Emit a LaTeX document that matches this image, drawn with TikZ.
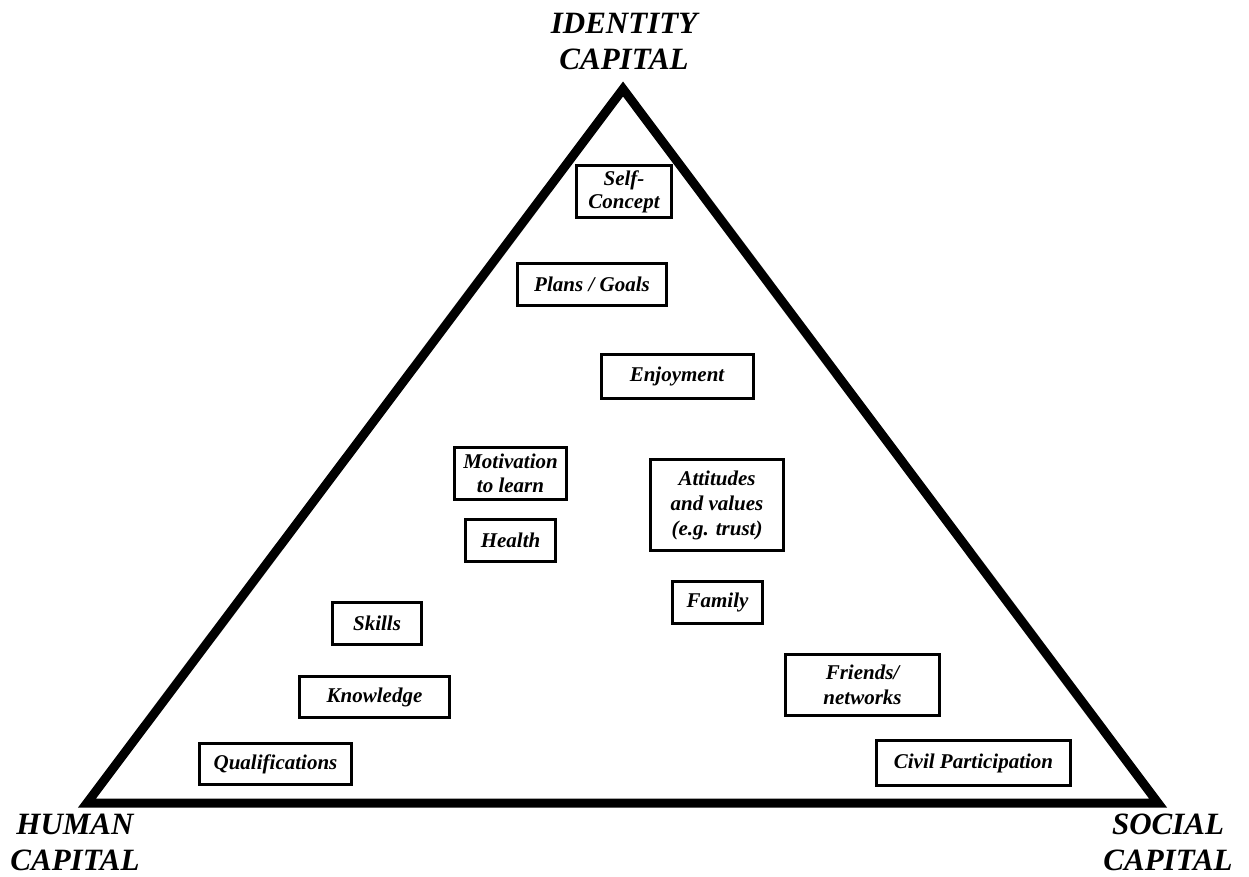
\documentclass[tikz,border=0pt]{standalone}
\usepackage{fontspec}
\setmainfont{Liberation Serif}
\begin{document}
\begin{tikzpicture}[x=1pt,y=-1pt,
  item/.style={draw, line width=3pt, align=center, inner sep=0pt,
    font=\fontsize{21}{25}\selectfont\bfseries\itshape},
  corner/.style={align=center, inner sep=0pt,
    font=\fontsize{31}{36}\selectfont\bfseries\itshape}]
\useasboundingbox (0,0) rectangle (1249,877);
\coordinate (top) at (623,89);
\coordinate (bl) at (87,803);
\coordinate (br) at (1158,803);
\draw[line width=9pt, line join=miter] (top) -- (br) -- (bl) -- cycle;

\node[corner] (idc) at (624,42) {IDENTITY\\CAPITAL};
\node[corner] (hc) at (75,842) {HUMAN\\CAPITAL};
\node[corner] (sc) at (1168,842) {SOCIAL\\CAPITAL};

\node[item, minimum width=95pt, minimum height=52pt, font=\fontsize{21}{23}\selectfont\bfseries\itshape] (self) at (624,191.5) {Self-\\Concept};
\node[item, minimum width=149pt, minimum height=42pt] (plans) at (592,284.5) {Plans / Goals};
\node[item, minimum width=152pt, minimum height=44pt] (enj) at (677,376.5) {Enjoyment};
\node[item, minimum width=112pt, minimum height=52pt, font=\fontsize{21}{24}\selectfont\bfseries\itshape] (mot) at (510.5,473.5) {Motivation\\to learn};
\node[item, minimum width=90pt, minimum height=42pt] (health) at (510.5,540.5) {Health};
\node[item, minimum width=133pt, minimum height=91pt] (att) at (717,505) {Attitudes\\and values\\(e.g. trust)};
\node[item, minimum width=90pt, minimum height=42pt] (fam) at (717.5,602.5) {Family};
\node[item, minimum width=89pt, minimum height=42pt] (skills) at (377,623.5) {Skills};
\node[item, minimum width=150pt, minimum height=41pt] (know) at (374.5,697) {Knowledge};
\node[item, minimum width=152pt, minimum height=41pt] (qual) at (275.5,764) {Qualifications};
\node[item, minimum width=154pt, minimum height=61pt] (fri) at (862.5,685) {Friends/\\networks};
\node[item, minimum width=194pt, minimum height=45pt] (civ) at (973.5,763) {Civil Participation};
\end{tikzpicture}
\end{document}
